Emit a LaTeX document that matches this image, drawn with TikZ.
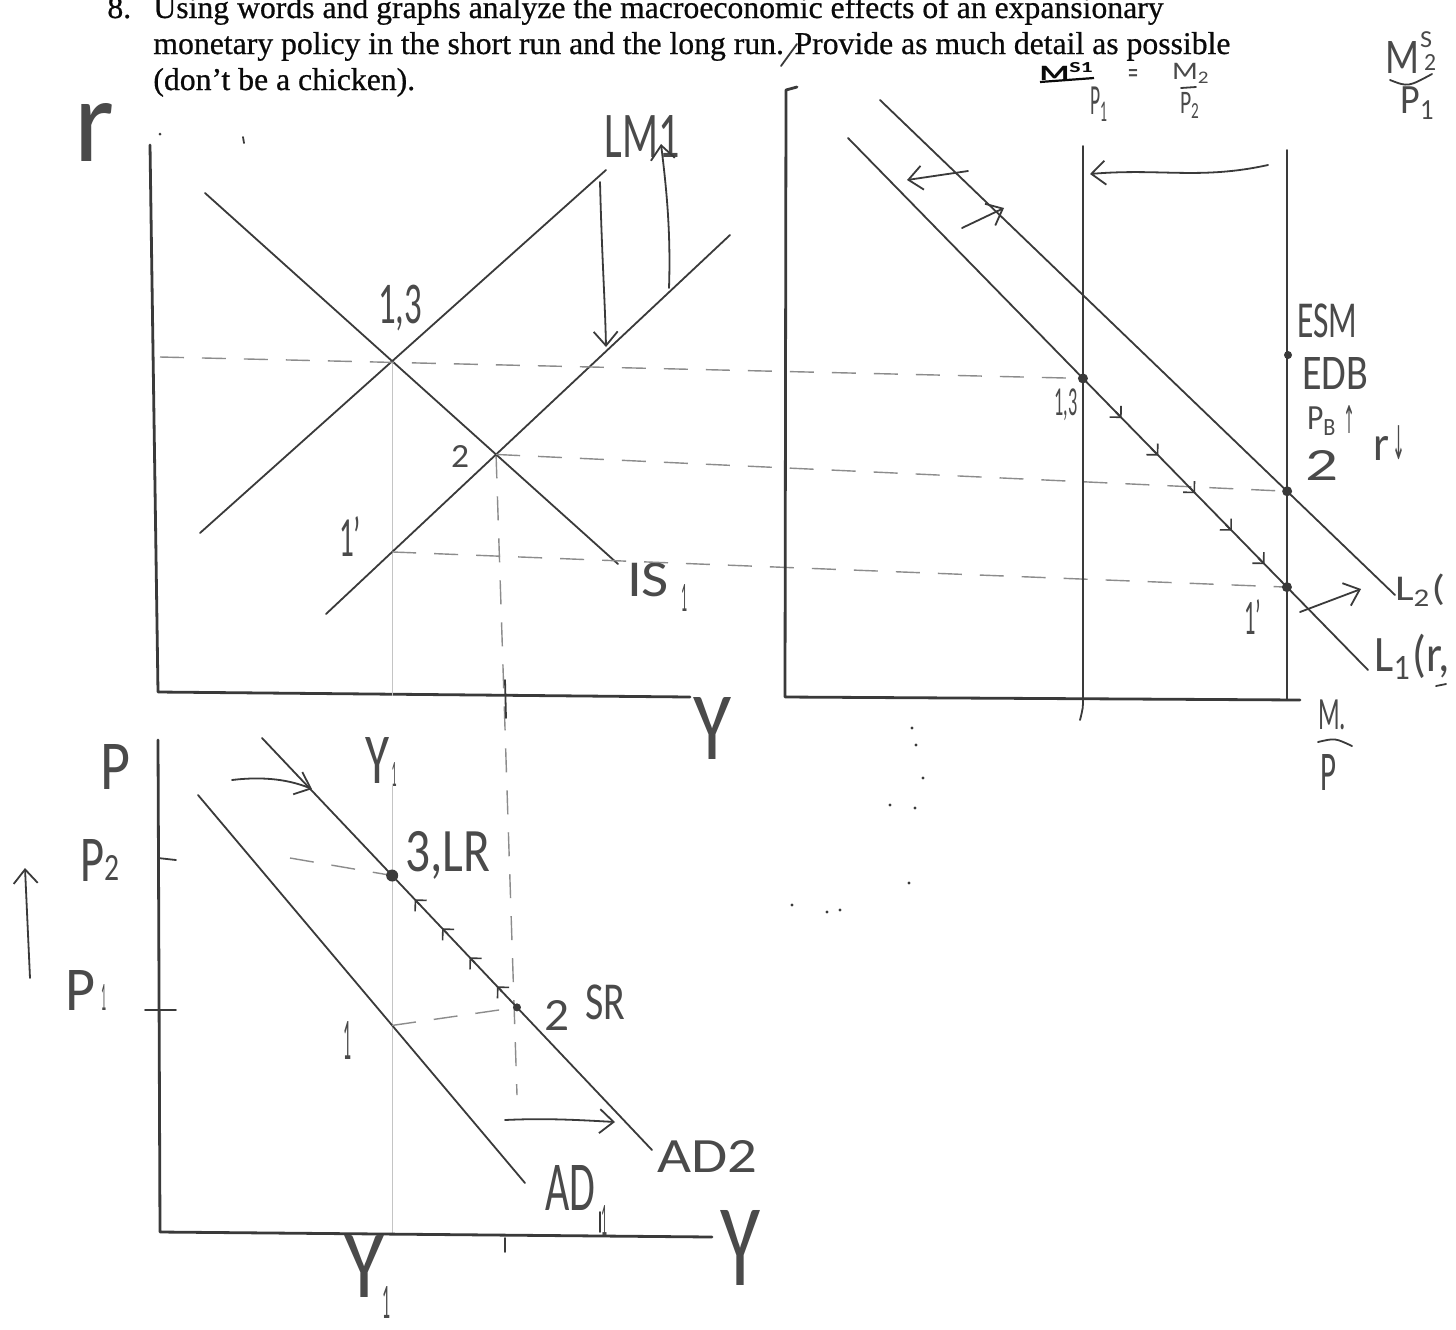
\documentclass[tikz,border=0pt]{standalone}
\usepackage{fontspec}
\usepackage{graphicx}
\setmainfont{Liberation Serif}
\newfontfamily\hw{Carlito}
\newfontfamily\djv{DejaVu Sans}
\usetikzlibrary{arrows.meta,calc}
\definecolor{inkc}{HTML}{3A3A3A}
\definecolor{txtc}{HTML}{4A4A4A}
\definecolor{guidec}{HTML}{8C8C8C}
\definecolor{faintc}{HTML}{C4C4C4}
\definecolor{blk}{HTML}{0A0A0A}
\newlength\pxu
\setlength\pxu{0.5pt}
\newcommand\hb[3]{\resizebox*{#1\pxu}{#2\pxu}{\hw #3}}
\newcommand\hd[3]{\resizebox*{#1\pxu}{#2\pxu}{\djv #3}}
\newsavebox\lineb
\begin{document}
\sbox\lineb{\fontsize{14}{17}\selectfont monetary policy in the short run and the long run. Provide as much detail as possible}
\pgfmathsetmacro\pfs{14*538.5/\the\wd\lineb}
\begin{tikzpicture}[x=0.5pt,y=-0.5pt,
  ink/.style={draw=inkc, line width=0.9pt, line cap=round, line join=round},
  axisl/.style={draw=inkc, line width=1.4pt, line cap=round, line join=round},
  guide/.style={draw=guidec, line width=0.7pt, dash pattern=on 12pt off 9pt},
  faint/.style={draw=faintc, line width=0.6pt},
  vh/.style={-{Straight Barb[length=7pt,width=12pt,line width=0.9pt]}},
  sh/.style={-{Straight Barb[length=4pt,width=8pt,line width=0.8pt]}},
  hand/.style={text=txtc, inner sep=0pt},
  prt/.style={text=blk, font={\fontsize{\pfs}{\pfs}\selectfont\addfontfeature{FakeBold=0.6}}, inner sep=0pt, anchor=base west},
  dotm/.style={fill=inkc, draw=none}
]
\useasboundingbox (0,0) rectangle (1456,1329);
\fill[white] (0,0) rectangle (1456,1329);

% ---------- printed question ----------
\node[prt] (qn) at (107,18) {8.};
\node[prt] (q1) at (153,18) {Using words and graphs analyze the macroeconomic effects of an expansionary};
\node[prt] (q2) at (153,54) {monetary policy in the short run and the long run. Provide as much detail as possible};
\node[prt] (q3) at (153,90) {(don’t be a chicken).};
\draw[ink] (797,44) -- (781,66);

% ---------- IS-LM graph ----------
\coordinate (isA) at (205,193); \coordinate (isB) at (618,564);
\coordinate (lmA) at (200,533); \coordinate (lmB) at (606,170);
\coordinate (lnA) at (326,614); \coordinate (lnB) at (730,235);
\coordinate (E13) at (intersection of isA--isB and lmA--lmB);
\coordinate (E2) at (intersection of isA--isB and lnA--lnB);
\coordinate (vA) at ($(E13)+(0,-50)$); \coordinate (vB) at ($(E13)+(0,400)$);
\coordinate (E1p) at (intersection of lnA--lnB and vA--vB);

\draw[axisl] (150,145) -- (158,692) -- (690,697);
\fill[inkc] (160,134) circle (1.5);
\draw[ink] (243,137) -- (244,143);
\node[hand] (rl) at (95,132) {\hb{40}{58}{r}};
\node[hand] (yax1) at (712,728) {\hb{38}{62}{Y}};
\node[hand] (y1a) at (377,760) {\hb{24}{46}{Y}};
\node[hand] (y1as) at (394,774) {\hb{5}{24}{1}};

\draw[faint] (E13) -- ($(E13)+(0,335)$);
\draw[guide] (E2) -- (517,1095);
\draw[ink] (505,680) -- (506,718);

\draw[ink] (isA) -- (isB);
\draw[ink] (lmA) -- (lmB);
\draw[ink] (lnA) -- (lnB);
\node[hand] (lm1) at (642,136) {\hb{75}{42}{LM1}};
\node[hand] (is1) at (648,580) {\hb{42}{34}{IS}};
\node[hand] (is1s) at (684,598) {\hb{6}{27}{1}};
\node[hand] (l13) at (400,308) {\hb{44}{46}{1,3}};
\node[hand] (l2) at (460,456) {\hb{18}{22}{2}};
\node[hand] (l1p) at (350,536) {\hb{22}{40}{1’}};

\draw[ink, vh] (600,182) .. controls (602,260) and (605,300) .. (606,347);
\draw[ink, vh] (669,288) .. controls (671,230) and (666,185) .. (661,144);

% ---------- money market ----------
\coordinate (LaA) at (848,138); \coordinate (LaB) at (1368,670);
\coordinate (LbA) at (880,100); \coordinate (LbB) at (1395,595);
\coordinate (V1a) at (1083,146); \coordinate (V1b) at (1083,698);
\coordinate (V2a) at (1287,150); \coordinate (V2b) at (1287,700);
\coordinate (M13) at (intersection of LaA--LaB and V1a--V1b);
\coordinate (M2) at (intersection of LbA--LbB and V2a--V2b);
\coordinate (M1p) at (intersection of LaA--LaB and V2a--V2b);

\draw[guide] (160,357) -- (M13);
\draw[guide] (E2) -- (M2);
\draw[guide] (E1p) -- (M1p);

\draw[axisl] (797,87) -- (786,90) -- (785,697) -- (1300,700);
\draw[ink] (V1a) -- (V1b) .. controls (1083,708) .. (1080,720);
\draw[ink] (V2a) -- (V2b);
\draw[ink] (LaA) -- (LaB);
\draw[ink] (LbA) -- (LbB);

\fill[dotm] (M13) circle (5);
\fill[dotm] (M2) circle (5);
\fill[dotm] (M1p) circle (5);
\fill[dotm] (1288,355) circle (4);

\foreach \t in {0.16,0.34,0.52,0.70,0.86}
  \draw[ink, sh] ($(M13)!\t!(M1p)$) -- ($(M13)!\t+0.03!(M1p)$);

\draw[ink, vh] (1268,165) .. controls (1200,180) and (1160,168) .. (1090,174);
\draw[ink, vh] (968,171) -- (907,180);
\draw[ink, vh] (962,228) -- (1004,208);
\draw[ink, vh] (1300,612) -- (1361,589);

\node[hand] (m13) at (1066,405) {\hb{23}{32}{1,3}};
\node[hand] (m2l) at (1322,465) {\hb{33}{30}{2}};
\node[hand] (m1p) at (1253,617) {\hb{17}{35}{1’}};
\node[hand] (l2l) at (1420,590) {\hb{50}{32}{L\textsubscript{2}(}};
\node[hand] (l1l) at (1412,657) {\hb{75}{45}{L\textsubscript{1}(r,}};
\node[hand] (esm) at (1327,321) {\hb{60}{34}{ESM}};
\node[hand] (edb) at (1335,373) {\hb{66}{32}{EDB}};
\node[hand] (pbl) at (1322,421) {\hb{30}{28}{P\textsubscript{B}}};
\node[hand] (pba) at (1349,419) {\hd{12}{28}{↑}};
\node[hand] (rrl) at (1381,448) {\hb{16}{24}{r}};
\node[hand] (rra) at (1399,443) {\hd{13}{34}{↓}};
\node[hand] (mpm) at (1332,715) {\hb{28}{30}{M.}};
\draw[ink] (1318,742) .. controls (1335,738) .. (1352,746);
\node[hand] (mpp) at (1328,772) {\hb{16}{36}{P}};
\draw[ink] (1436,686) -- (1446,684);

\node[text=blk, inner sep=0pt] (ms1) at (1067,71) {\resizebox*{55\pxu}{18\pxu}{\hw\bfseries M\textsuperscript{S1}}};
\draw[blk, line width=1.1pt] (1040,82) -- (1094,78);
\node[hand] (p1a) at (1099,104) {\hb{18}{34}{P\textsubscript{1}}};
\node[hand] (eqs) at (1133,76) {\hb{10}{14}{=}};
\node[hand] (m2a) at (1191,73) {\hb{38}{20}{M\textsubscript{2}}};
\draw[ink] (1181,88) -- (1196,87);
\node[hand] (p2a) at (1190,105) {\hb{20}{26}{P\textsubscript{2}}};
\node[hand] (m2m) at (1402,57) {\hb{34}{32}{M}};
\node[hand] (m2ss) at (1426,40) {\hb{12}{16}{S}};
\node[hand] (m2s2) at (1430,62) {\hb{12}{16}{2}};
\draw[ink] (1390,80) .. controls (1408,87) .. (1432,74);
\node[hand] (p1b) at (1418,103) {\hb{35}{33}{P\textsubscript{1}}};

% ---------- AS-AD graph ----------
\coordinate (d1A) at (198,795); \coordinate (d1B) at (525,1183);
\coordinate (d2A) at (262,738); \coordinate (d2B) at (652,1150);
\coordinate (yb) at ($(E13)+(0,870)$);
\coordinate (A3) at (intersection of d2A--d2B and E13--yb);
\coordinate (A1) at (intersection of d1A--d1B and E13--yb);
\coordinate (w1) at (517,900); \coordinate (w2) at (517,1100);
\coordinate (A2) at (intersection of d2A--d2B and w1--w2);

\draw[faint] ($(E13)+(0,425)$) -- ($(E13)+(0,872)$);
\draw[axisl] (158,740) -- (160,1232) -- (712,1237);
\draw[ink] (158,858) -- (176,860);
\draw[ink] (145,1010) -- (176,1010);
\draw[ink] (d1A) -- (d1B);
\draw[ink] (d2A) -- (d2B);
\draw[guide] (290,858) -- (A3);
\draw[guide] (A1) -- (A2);
\fill[dotm] (A3) circle (6);
\fill[dotm] (A2) circle (4);
\draw[ink] (505,1238) -- (505,1252);
\draw[ink] (600,1212) -- (600,1232);

\foreach \t in {0.12,0.34,0.56,0.78}
  \draw[ink, sh] ($(A2)!\t!(A3)$) -- ($(A2)!\t+0.04!(A3)$);

\draw[ink, vh] (232,780) .. controls (265,776) and (290,780) .. (312,789);
\draw[ink, vh] (505,1120) .. controls (545,1118) and (580,1120) .. (615,1122);
\draw[ink, vh] (30,978) -- (25,868);

\node[hand] (pl) at (115,767) {\hb{30}{45}{P}};
\node[hand] (p2l) at (92,860) {\hb{24}{42}{P}};
\node[hand] (p2ls) at (112,868) {\hb{15}{25}{2}};
\node[hand] (p1l) at (80,990) {\hb{30}{40}{P}};
\node[hand] (p1ls) at (104,997) {\hb{5}{26}{1}};
\node[hand] (a3l) at (448,855) {\hb{85}{48}{3,LR}};
\node[hand] (a1l) at (347,1040) {\hb{8}{38}{1}};
\node[hand] (a2l) at (557,1015) {\hb{25}{30}{2}};
\node[hand] (srl) at (605,1002) {\hb{40}{35}{SR}};
\node[hand] (ad2l) at (707,1156) {\hb{100}{32}{AD2}};
\node[hand] (ad1l) at (570,1188) {\hb{50}{45}{AD}};
\node[hand] (ad1s) at (604,1220) {\hb{6}{30}{1}};
\node[hand] (y1b) at (364,1266) {\hb{40}{62}{Y}};
\node[hand] (y1bs) at (386,1302) {\hb{8}{32}{1}};
\node[hand] (yax2) at (740,1248) {\hb{40}{75}{Y}};

% stray specks
\foreach \p in {(912,728),(916,745),(923,778),(890,805),(915,808),(909,883),(792,905),(827,912),(840,910)}
  \fill[inkc] \p circle (1.6);
\end{tikzpicture}
\end{document}
